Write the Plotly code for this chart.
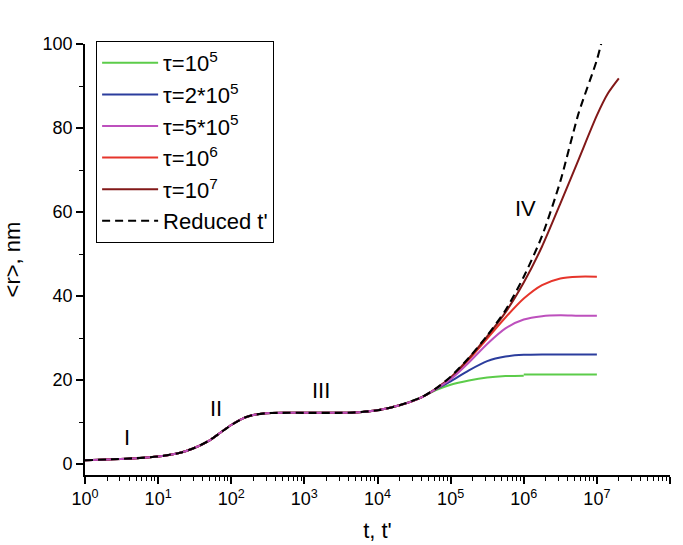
import math
import plotly.graph_objects as go

# Shared early-time growth (regimes I-III), identical for every curve
t_base = [1, 2, 5, 10, 20, 30, 50, 70, 100, 150, 200, 300, 500, 1e3, 3e3, 5e3, 1e4, 2e4, 4e4]
r_base = [0.9, 1.1, 1.4, 1.8, 2.7, 3.7, 5.6, 7.4, 9.3, 11.0, 11.7, 12.1, 12.2, 12.2, 12.2, 12.3, 12.8, 14.0, 15.9]

# Late-time branches (regime IV), sampled at t = 10^p
p_tail = [4.8, 5.0, 5.25, 5.5, 5.75, 6.0, 6.25, 6.5, 6.75, 7.0]
r_tau_1e5 = [17.6, 18.9, 19.9, 20.6, 20.95, 21.05, None, None, None, None]
p_tau_1e5_late = [6.0, 6.5, 7.0]
r_tau_1e5_late = [21.35, 21.35, 21.35]
r_tau_2e5 = [17.8, 19.7, 22.3, 24.5, 25.6, 26.0, 26.1, 26.1, 26.1, 26.1]
r_tau_5e5 = [17.9, 20.2, 24.2, 28.6, 32.3, 34.4, 35.2, 35.4, 35.3, 35.3]
r_tau_1e6 = [17.9, 20.4, 24.9, 29.9, 34.9, 39.4, 42.6, 44.2, 44.6, 44.6]

p_tau_1e7 = [4.8, 5.0, 5.25, 5.5, 5.75, 6.0, 6.25, 6.5, 6.75, 7.0, 7.15, 7.3]
r_tau_1e7 = [18.0, 20.6, 25.2, 30.4, 36.1, 43.2, 51.8, 62.0, 72.5, 83.0, 88.2, 91.8]

p_reduced = [4.8, 5.0, 5.25, 5.5, 5.75, 6.0, 6.25, 6.5, 6.75, 7.0, 7.1]
r_reduced = [18.0, 20.8, 25.3, 30.6, 36.6, 44.6, 54.3, 67.3, 83.5, 96.2, 103.0]

labels = ["τ=10<sup>5</sup>", "τ=2*10<sup>5</sup>", "τ=5*10<sup>5</sup>",
          "τ=10<sup>6</sup>", "τ=10<sup>7</sup>", "Reduced t'"]
regime_labels = ["I", "II", "III", "IV"]
regime_t = [3.8, 62, 1700, 1.05e6]
regime_r = [6.4, 13.3, 17.6, 60.9]

x_tickvals = [10 ** k for k in range(9)]
x_ticktext = [f"10<sup>{k}</sup>" for k in range(9)]

FONT = "Arial, Liberation Sans, sans-serif"


def branch(p, r):
    """Join the shared early curve with a late branch given on a 10^p grid."""
    pts = [(10 ** a, b) for a, b in zip(p, r) if b is not None]
    return t_base + [q[0] for q in pts], r_base + [q[1] for q in pts]


series = [
    # (label index, p grid, r values, colour, dashed, legend rank)
    (0, p_tail, r_tau_1e5, "#5ccc4a", False, 1),
    (1, p_tail, r_tau_2e5, "#2b3d9d", False, 2),
    (3, p_tail, r_tau_1e6, "#e6352b", False, 4),
    (4, p_tau_1e7, r_tau_1e7, "#821818", False, 5),
    (2, p_tail, r_tau_5e5, "#bd50bd", False, 3),
    (5, p_reduced, r_reduced, "#000000", True, 6),
]

fig = go.Figure()
for idx, p, r, color, dashed, rank in series:
    x, y = branch(p, r)
    fig.add_trace(go.Scatter(
        x=x, y=y, mode="lines", name=labels[idx],
        legendrank=rank, legendgroup=f"g{rank}",
        line=dict(color=color, width=2.1 if dashed else 2,
                  dash="8px,5px" if dashed else "solid",
                  shape="spline", smoothing=0.7),
    ))
    if idx == 0:
        # second segment of the τ=10^5 run, after its final step
        fig.add_trace(go.Scatter(
            x=[10 ** a for a in p_tau_1e5_late], y=r_tau_1e5_late, mode="lines",
            showlegend=False, legendgroup=f"g{rank}",
            line=dict(color=color, width=2),
        ))

for lab, tx, ry in zip(regime_labels, regime_t, regime_r):
    fig.add_annotation(x=math.log10(tx), y=ry, xref="x", yref="y", text=lab,
                       showarrow=False, font=dict(family=FONT, size=22, color="black"))

fig.update_layout(
    width=683, height=545,
    margin=dict(l=85, r=13, t=44, b=70),
    plot_bgcolor="white", paper_bgcolor="white",
    font=dict(family=FONT, color="black", size=18),
    legend=dict(
        x=0.019, y=1.007, xanchor="left", yanchor="top",
        bordercolor="black", borderwidth=1, bgcolor="white",
        font=dict(family=FONT, size=22, color="black"),
        itemwidth=56, tracegroupgap=0,
    ),
)
fig.update_xaxes(
    type="log", range=[0, 8], automargin=False,
    tickvals=x_tickvals, ticktext=x_ticktext, tickfont=dict(size=18),
    showline=True, linecolor="black", linewidth=1.6,
    ticks="outside", ticklen=7, tickwidth=1.6, tickcolor="black",
    minor=dict(ticks="outside", ticklen=4, tickwidth=1.3, tickcolor="black", dtick="D1", showgrid=False),
    showgrid=False, zeroline=False,
    title=dict(text="t, t'", font=dict(size=22), standoff=14),
)
fig.update_yaxes(
    range=[-2.6, 100], automargin=False, tickfont=dict(size=18),
    tickvals=[0, 20, 40, 60, 80, 100],
    showline=True, linecolor="black", linewidth=1.6,
    ticks="outside", ticklen=7, tickwidth=1.6, tickcolor="black",
    minor=dict(ticks="outside", ticklen=4, tickwidth=1.3, tickcolor="black",
               tickvals=[10, 30, 50, 70, 90], showgrid=False),
    showgrid=False, zeroline=False,
    title=dict(text="&lt;r&gt;, nm", font=dict(size=22), standoff=18),
)

fig.write_html("out.html")
